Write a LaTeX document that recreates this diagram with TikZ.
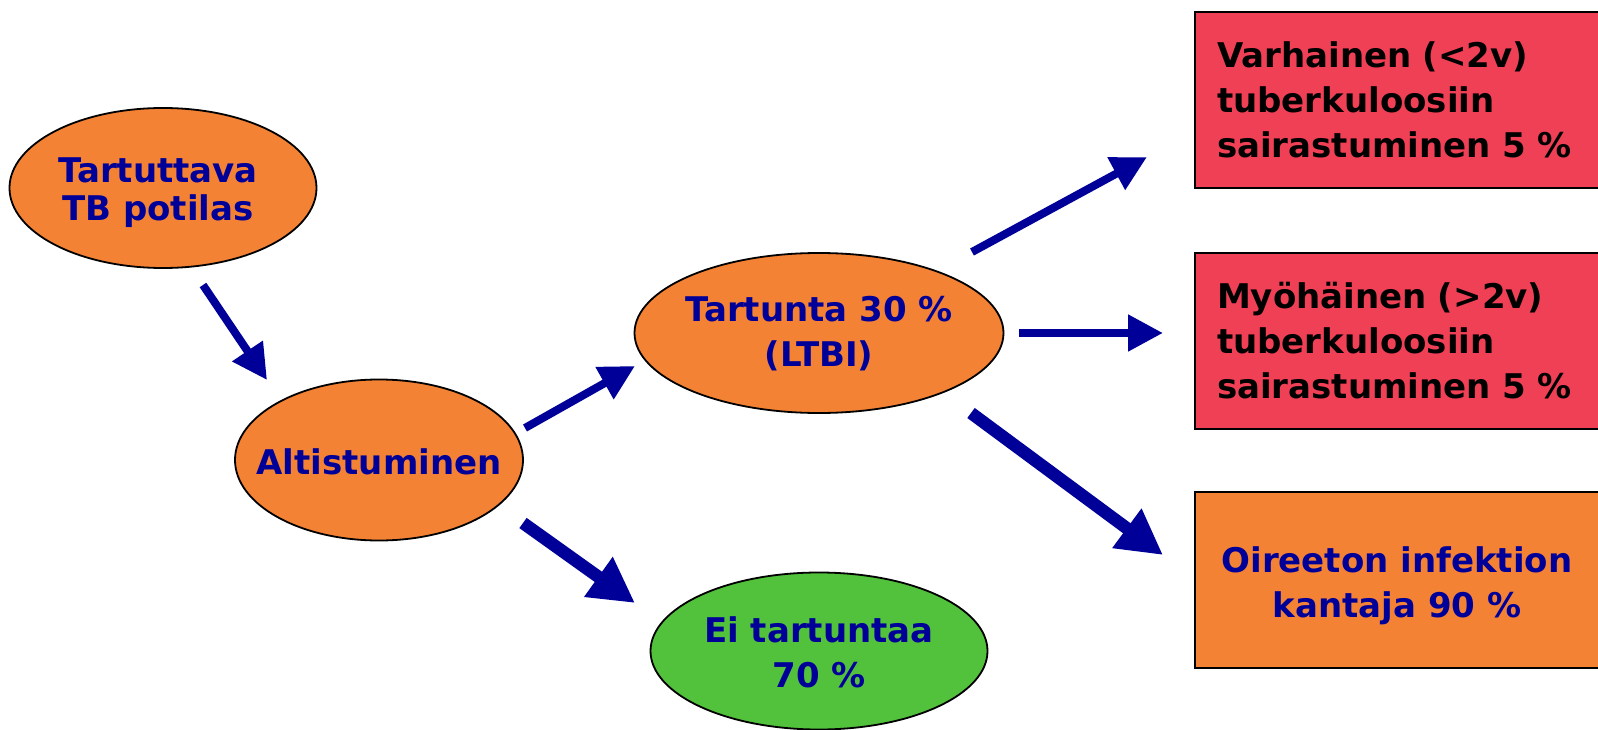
\documentclass[tikz,border=0pt]{standalone}
\usepackage{fontspec}
\setmainfont{DejaVu Sans}
\usetikzlibrary{shapes.geometric,arrows.meta}
\definecolor{orng}{RGB}{244,130,52}
\definecolor{redbox}{RGB}{239,64,86}
\definecolor{grn}{RGB}{82,193,60}
\definecolor{navy}{RGB}{0,0,153}
\begin{document}
\begin{tikzpicture}[x=1pt,y=-1pt,
  every node/.style={font=\bfseries\fontsize{34}{45}\selectfont},
  oval/.style={ellipse, draw=black, line width=1.8pt, inner sep=0pt},
  txt/.style={inner sep=0pt, align=center, text=navy},
  box/.style={rectangle, draw=black, line width=2.5pt, inner sep=0pt, minimum width=407pt, minimum height=176pt},
  thinarrow/.style={draw=navy, line width=8pt, -{Triangle[length=35pt,width=35pt]}},
  thickarrow/.style={draw=navy, line width=12.5pt, -{Triangle[length=45pt,width=46pt]}}
]
\useasboundingbox (0,0) rectangle (1598,730);

\node[oval, fill=orng, minimum width=307pt, minimum height=160pt] (tb) at (163,188) {};
\node[txt, font=\bfseries\fontsize{34}{38}\selectfont] (tbt) at (158,193) {Tartuttava\\TB potilas};
\node[oval, fill=orng, minimum width=288pt, minimum height=161pt] (alt) at (379,460) {};
\node[txt] (altt) at (379,462) {Altistuminen};
\node[oval, fill=orng, minimum width=369pt, minimum height=160pt] (tart) at (819,333) {};
\node[txt] (tartt) at (819,334) {Tartunta 30 \%\\(LTBI)};
\node[oval, fill=grn, minimum width=337pt, minimum height=157pt] (ei) at (819,651) {};
\node[txt] (eit) at (819,652) {Ei tartuntaa\\70 \%};

\node[box, fill=redbox, text width=363pt, align=left, text=black] (var) at (1398.5,100) {Varhainen (<2v)\\tuberkuloosiin\\sairastuminen 5 \%};
\node[box, fill=redbox, text width=363pt, align=left, text=black] (myo) at (1398.5,341) {Myöhäinen (>2v)\\tuberkuloosiin\\sairastuminen 5 \%};
\node[box, fill=orng] (oir) at (1398.5,580) {};
\node[txt] (oirt) at (1397,586) {Oireeton infektion\\kantaja 90 \%};

\coordinate (a1s) at (203,285); \coordinate (a1e) at (267,380);
\coordinate (a2s) at (525,428); \coordinate (a2e) at (635,366);
\coordinate (a3s) at (523,523); \coordinate (a3e) at (635,603);
\coordinate (a4s) at (972,252); \coordinate (a4e) at (1147,157);
\coordinate (a5s) at (1019,333); \coordinate (a5e) at (1163,333);
\coordinate (a6s) at (971,413); \coordinate (a6e) at (1163,555);

\draw[thinarrow] (a1s) -- (a1e);
\draw[thinarrow] (a2s) -- (a2e);
\draw[thickarrow] (a3s) -- (a3e);
\draw[thinarrow] (a4s) -- (a4e);
\draw[thinarrow] (a5s) -- (a5e);
\draw[thickarrow] (a6s) -- (a6e);
\end{tikzpicture}
\end{document}
